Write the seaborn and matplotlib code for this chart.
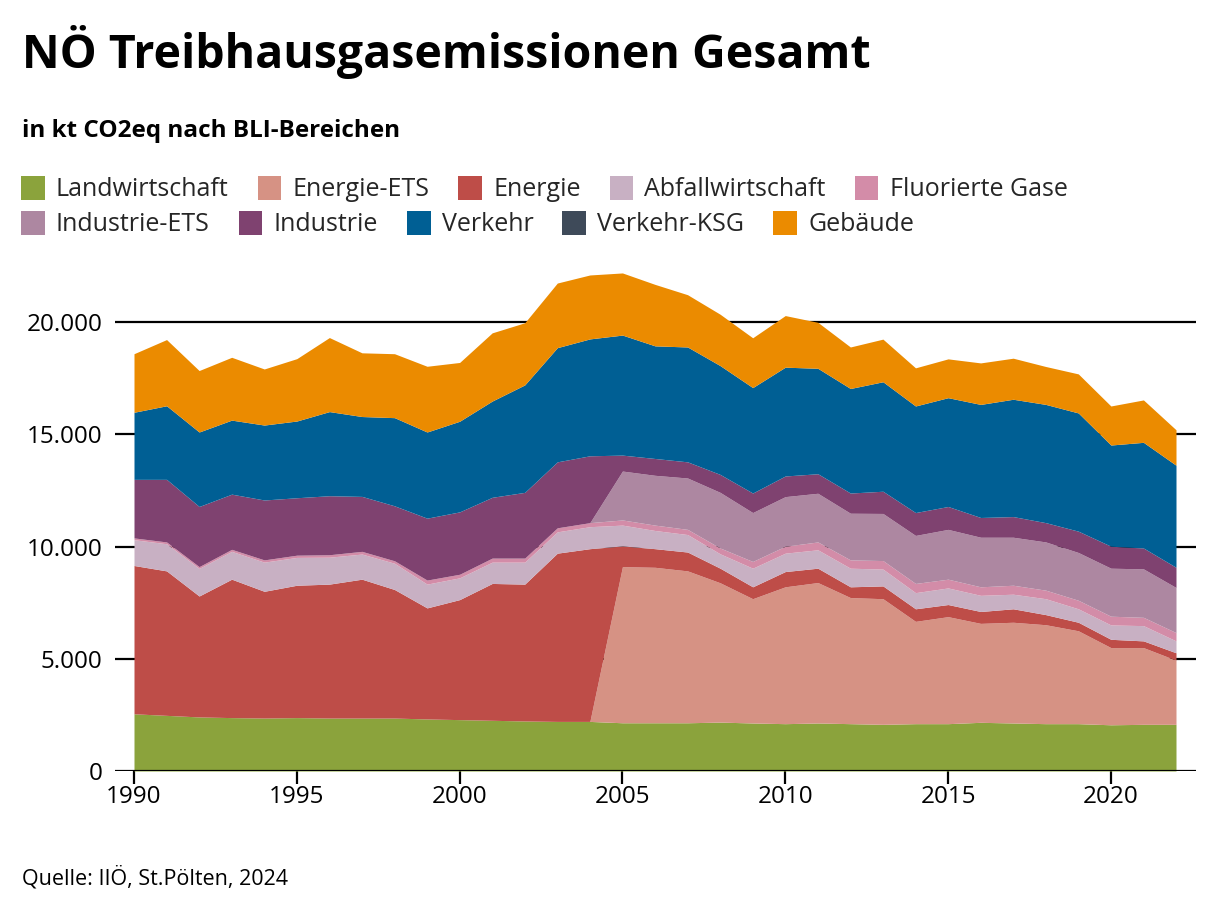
import numpy as np
import pandas as pd
import matplotlib
matplotlib.use("Agg")
import matplotlib.pyplot as plt
from matplotlib.patches import Patch
import seaborn as sns

# Werte in 1000 kt CO2eq
years = list(range(1990, 2023))

landwirtschaft = [2.55, 2.48, 2.41, 2.38, 2.36, 2.38, 2.36, 2.36, 2.36, 2.32, 2.29, 2.26, 2.23, 2.21, 2.21,
                  2.15, 2.15, 2.15, 2.18, 2.14, 2.11, 2.14, 2.11, 2.08, 2.11, 2.11, 2.17, 2.14, 2.11, 2.11,
                  2.06, 2.08, 2.08]
energie_ets = [0, 0, 0, 0, 0, 0, 0, 0, 0, 0, 0, 0, 0, 0, 0,
               6.96, 6.93, 6.77, 6.21, 5.54, 6.10, 6.26, 5.62, 5.60, 4.56, 4.77, 4.41, 4.49, 4.41, 4.14,
               3.44, 3.42, 2.86]
energie = [6.61, 6.44, 5.39, 6.17, 5.65, 5.90, 5.97, 6.19, 5.73, 4.95, 5.35, 6.10, 6.10, 7.50, 7.70,
           0.92, 0.83, 0.84, 0.65, 0.53, 0.68, 0.64, 0.48, 0.57, 0.56, 0.54, 0.53, 0.60, 0.45, 0.38,
           0.37, 0.30, 0.33]
abfall = [1.15, 1.21, 1.23, 1.24, 1.30, 1.24, 1.20, 1.12, 1.17, 1.06, 0.97, 0.95, 0.98, 0.95, 0.98,
          0.93, 0.81, 0.78, 0.64, 0.83, 0.82, 0.82, 0.83, 0.75, 0.72, 0.74, 0.72, 0.65, 0.71, 0.60,
          0.64, 0.68, 0.53]
fluor = [0.08, 0.08, 0.08, 0.09, 0.10, 0.10, 0.11, 0.12, 0.11, 0.18, 0.16, 0.18, 0.18, 0.18, 0.18,
         0.23, 0.24, 0.23, 0.26, 0.30, 0.31, 0.35, 0.37, 0.38, 0.41, 0.39, 0.38, 0.40, 0.38, 0.38,
         0.39, 0.37, 0.37]
industrie_ets = [0, 0, 0, 0, 0, 0, 0, 0, 0, 0, 0, 0, 0, 0, 0,
                 2.18, 2.22, 2.29, 2.48, 2.18, 2.21, 2.17, 2.08, 2.10, 2.14, 2.22, 2.21, 2.14, 2.15, 2.13,
                 2.14, 2.16, 2.01]
industrie = [2.61, 2.79, 2.68, 2.46, 2.67, 2.56, 2.63, 2.45, 2.45, 2.76, 2.78, 2.71, 2.93, 2.94, 2.98,
             0.71, 0.75, 0.72, 0.80, 0.87, 0.92, 0.87, 0.90, 0.99, 1.02, 1.02, 0.88, 0.92, 0.86, 0.95,
             0.98, 0.93, 0.90]
verkehr = [2.99, 3.28, 3.32, 3.30, 3.34, 3.42, 3.75, 3.56, 3.93, 3.84, 4.04, 4.29, 4.79, 5.09, 5.21,
           5.35, 5.02, 5.12, 4.85, 4.70, 4.85, 4.70, 4.66, 4.88, 4.75, 4.85, 5.04, 5.23, 5.27, 5.27,
           4.51, 4.71, 4.55]
verkehr_ksg = [0] * 33
gebaeude = [2.61, 2.95, 2.74, 2.80, 2.50, 2.78, 3.30, 2.84, 2.85, 2.93, 2.62, 3.04, 2.77, 2.88, 2.85,
            2.77, 2.74, 2.33, 2.29, 2.22, 2.30, 2.05, 1.85, 1.90, 1.70, 1.73, 1.85, 1.83, 1.69, 1.74,
            1.74, 1.89, 1.58]

labels = ["Landwirtschaft", "Energie-ETS", "Energie", "Abfallwirtschaft", "Fluorierte Gase",
          "Industrie-ETS", "Industrie", "Verkehr", "Verkehr-KSG", "Gebäude"]
colors = ["#8ba33c", "#d69284", "#be4d48", "#c8b0c3", "#d38ca8",
          "#ad87a1", "#7f4270", "#005f94", "#3e4a59", "#eb8b00"]

df = pd.DataFrame({
    "Landwirtschaft": landwirtschaft, "Energie-ETS": energie_ets, "Energie": energie,
    "Abfallwirtschaft": abfall, "Fluorierte Gase": fluor, "Industrie-ETS": industrie_ets,
    "Industrie": industrie, "Verkehr": verkehr, "Verkehr-KSG": verkehr_ksg, "Gebäude": gebaeude,
}, index=years) * 1000

sns.set_theme(style="white")
plt.rcParams["font.family"] = ["Open Sans", "DejaVu Sans"]

fig = plt.figure(figsize=(12.2, 9.14), dpi=100)
ax = fig.add_axes([115 / 1220, 1 - 771 / 914, (1196 - 115) / 1220, (771 - 255) / 914])

ax.stackplot(df.index, [df[c] for c in labels], colors=colors, labels=labels, linewidth=0)

ax.set_xlim(1990 - 19 / 32.56, 2022 + 20 / 32.56)
ax.set_ylim(0, 23000)
ax.set_yticks([0, 5000, 10000, 15000, 20000])
ax.set_yticklabels(["0", "5.000", "10.000", "15.000", "20.000"])
ax.set_xticks([1990, 1995, 2000, 2005, 2010, 2015, 2020])

for v in [5000, 10000, 15000, 20000]:
    ax.axhline(v, color="black", lw=1.6, zorder=0)
ax.axhline(0, color="black", lw=1.6, zorder=3)

sns.despine(ax=ax, left=True, bottom=True)
ax.tick_params(axis="y", length=0, pad=9, labelsize=17.5, colors="black")
ax.tick_params(axis="x", which="major", length=9, width=1.6, color="black",
               direction="out", bottom=True, labelsize=17.5, colors="black", pad=1)

fig.text(22 / 1220, 1 - 68 / 914, "NÖ Treibhausgasemissionen Gesamt",
         fontsize=33.5, fontweight="bold", color="black", va="baseline")
fig.text(22 / 1220, 1 - 137 / 914, "in kt CO2eq nach BLI-Bereichen",
         fontsize=17.5, fontweight="bold", color="black", va="baseline")
fig.text(22 / 1220, 1 - 884 / 914, "Quelle: IIÖ, St.Pölten, 2024",
         fontsize=15.5, color="black", va="baseline")

handles = [Patch(facecolor=c, edgecolor="none", label=l) for c, l in zip(colors, labels)]
for row, y in [(0, 1 - 189 / 914), (1, 1 - 224 / 914)]:
    fig.legend(handles=handles[row * 5:row * 5 + 5], loc="center left",
               bbox_to_anchor=(21 / 1220, y), ncol=5, frameon=False,
               fontsize=18, handlelength=0.95, handleheight=1.15,
               handletextpad=0.45, columnspacing=1.15, borderaxespad=0, borderpad=0)

fig.savefig("out.png", dpi=100)
